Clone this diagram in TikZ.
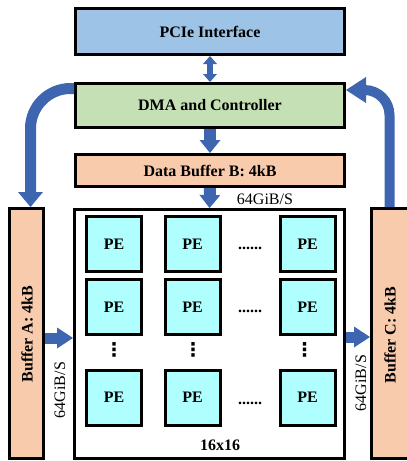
\documentclass[tikz,border=0pt]{standalone}
\usepackage{fontspec}
\setmainfont{Liberation Serif}
\newfontfamily\symfont{DejaVu Sans}
\usetikzlibrary{arrows.meta,calc}
\definecolor{pcieblue}{HTML}{9DC3E6}
\definecolor{dmagreen}{HTML}{C5E0B4}
\definecolor{bufpeach}{HTML}{F8CBAD}
\definecolor{pecyan}{HTML}{B0FFFF}
\definecolor{arrblue}{HTML}{3E65B0}
\tikzset{
  box/.style={draw=black, line width=3pt, inner sep=0pt, font=\fontsize{16}{19}\selectfont\bfseries},
  pebox/.style={box, fill=pecyan, minimum width=55pt, minimum height=55pt},
  lbl/.style={font=\fontsize{16}{19}\selectfont, inner sep=0pt},
  blbl/.style={font=\fontsize{16}{19}\selectfont\bfseries, inner sep=0pt},
  hdots/.style={font=\fontsize{16}{19}\selectfont\bfseries, inner sep=0pt, anchor=base},
  vdotsn/.style={font=\symfont\fontsize{19}{22}\selectfont\bfseries, inner sep=0pt},
  fat/.style={draw=arrblue, line width=#1},
}
\begin{document}
\begin{tikzpicture}[x=1pt,y=-1pt]
\useasboundingbox (0,0) rectangle (407,461);
\clip (0,0) rectangle (407,461);
% main boxes
\node[box, fill=pcieblue, minimum width=269pt, minimum height=46pt] (pcie) at (210,31.5) {PCIe Interface};
\node[box, fill=dmagreen, minimum width=269pt, minimum height=44pt] (dma) at (210,105.5) {DMA and Controller};
\node[box, fill=bufpeach, minimum width=269pt, minimum height=32pt] (bufB) at (210,170.5) {Data Buffer B: 4kB};
\node[box, fill=white, minimum width=270pt, minimum height=249pt] (arr) at (209.5,334) {};
\node[box, fill=bufpeach, minimum width=34pt, minimum height=250pt] (bufA) at (26.5,333.5) {};
\node[blbl, rotate=90] (bufAtxt) at (27,334) {Buffer A: 4kB};
\node[box, fill=bufpeach, minimum width=60pt, minimum height=250pt] (bufC) at (401.5,333.5) {};
\node[blbl, rotate=90] (bufCtxt) at (390,335) {Buffer C: 4kB};
% PE grid
\node[pebox] (pe11) at (114,244) {PE};
\node[pebox] (pe12) at (192.5,244) {PE};
\node[pebox] (pe13) at (307.5,244) {PE};
\node[pebox] (pe21) at (114,307) {PE};
\node[pebox] (pe22) at (192.5,307) {PE};
\node[pebox] (pe23) at (307.5,307) {PE};
\node[pebox] (pe31) at (114,397.5) {PE};
\node[pebox] (pe32) at (192.5,397.5) {PE};
\node[pebox] (pe33) at (307.5,397.5) {PE};
\node[hdots] (hd1) at (250,249) {......};
\node[hdots] (hd2) at (250,312) {......};
\node[hdots] (hd3) at (250,404) {......};
\node[vdotsn] (vd1) at (114,350) {⋮};
\node[vdotsn] (vd2) at (193,350) {⋮};
\node[vdotsn] (vd3) at (304.5,350) {⋮};
\node[blbl] (dim) at (220,445) {16x16};
% labels
\node[lbl] (bwB) at (265,199) {64GiB/S};
\node[lbl, rotate=90] (bwA) at (60,390) {64GiB/S};
\node[lbl, rotate=90] (bwC) at (361,383) {64GiB/S};
% arrows
\draw[fat=6pt, {Triangle[width=14pt,length=8pt,line width=0pt]}-{Triangle[width=14pt,length=8pt,line width=0pt]}] (pcie.south) -- (dma.north);
\draw[fat=12pt, -{Triangle[width=21pt,length=13pt,line width=0pt]}] (dma.south) -- (bufB.north);
\draw[fat=12pt, -{Triangle[width=21pt,length=13pt,line width=0pt]}] (bufB.south) -- (arr.north);
\draw[fat=11pt, -{Triangle[width=21pt,length=16pt,line width=0pt]}] (bufA.east |- 0,338) -- (arr.west |- 0,338);
\draw[fat=11pt, -{Triangle[width=21pt,length=16pt,line width=0pt]}] (arr.east |- 0,337) -- (bufC.west |- 0,337);
\draw[fat=11pt, rounded corners=40pt, -{Triangle[width=25pt,length=15pt,line width=0pt]}] ($(dma.north west)+(0,6.5)$) -| ($(bufA.north)+(4,0)$);
\draw[fat=10pt, rounded corners=25pt, -{Triangle[width=26pt,length=20pt,line width=0pt]}] ($(bufC.north west)+(19.5,0)$) |- ($(dma.north east)+(0,8)$);
\end{tikzpicture}
\end{document}
